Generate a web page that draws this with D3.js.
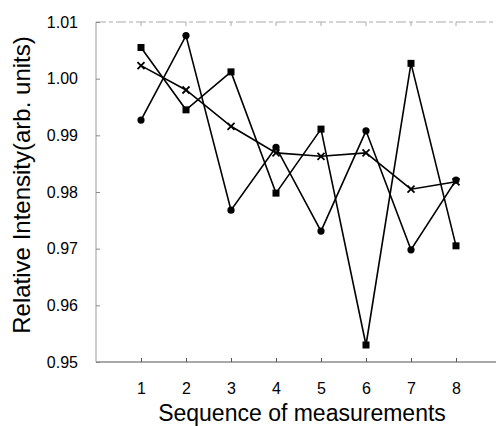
<!DOCTYPE html>
<html><head><meta charset="utf-8">
<script src="https://cdn.jsdelivr.net/npm/d3@7"></script>
<style>body{margin:0;background:#fff}svg{display:block}text{font-family:"Liberation Sans",Arial,sans-serif;fill:#000}</style>
</head><body>
<svg id="c" width="496" height="426"></svg>
<script>
const seq = [1,2,3,4,5,6,7,8];
const squares = [1.0055,0.9945,1.0012,0.9798,0.9911,0.9530,1.0027,0.9705];
const circles = [0.9927,1.0076,0.9768,0.9879,0.9731,0.9908,0.9698,0.9821];
const crosses = [1.0023,0.9980,0.9916,0.9869,0.9863,0.9869,0.9805,0.9818];
const yTicks = [0.95,0.96,0.97,0.98,0.99,1.00,1.01];
const xTitle = "Sequence of measurements";
const yTitle = "Relative Intensity(arb. units)";

const svg = d3.select("#c");
const x = d3.scaleLinear().domain([0,9]).range([96,501]);
const y = d3.scaleLinear().domain([0.95,1.01]).range([362,22]);

// frame
svg.append("line").attr("x1",96).attr("x2",496).attr("y1",y(0.95)).attr("y2",y(0.95)).attr("stroke","#555").attr("stroke-width",1);
svg.append("line").attr("x1",96).attr("x2",96).attr("y1",y(0.95)).attr("y2",y(1.01)).attr("stroke","#999").attr("stroke-width",1);
svg.append("line").attr("x1",96).attr("x2",496).attr("y1",y(1.01)).attr("y2",y(1.01)).attr("stroke","#aaa").attr("stroke-width",1).attr("stroke-dasharray","10,3,4,3");

// y axis
const ya = d3.axisLeft(y).tickValues(yTicks).tickFormat(d3.format(".2f")).tickSizeInner(-4).tickSizeOuter(0).tickPadding(18);
const gy = svg.append("g").attr("transform","translate(96,0)").call(ya);
gy.select(".domain").remove();
gy.selectAll("line").attr("stroke","#888");
gy.selectAll("text").attr("font-size",16).attr("fill","#000");

// x axis
const xa = d3.axisBottom(x).tickValues(seq).tickFormat(d3.format("d")).tickSizeInner(-4).tickSizeOuter(0).tickPadding(21);
const gx = svg.append("g").attr("transform",`translate(0,${y(0.95)})`).call(xa);
gx.select(".domain").remove();
gx.selectAll("line").attr("stroke","#555");
gx.selectAll("text").attr("font-size",16).attr("fill","#000");

// top ticks
svg.append("g").selectAll("line").data(seq).join("line")
  .attr("x1",d=>x(d)).attr("x2",d=>x(d)).attr("y1",y(1.01)).attr("y2",y(1.01)+4).attr("stroke","#aaa");

// titles
svg.append("text").attr("x",302).attr("y",421).attr("text-anchor","middle").attr("font-size",23).text(xTitle);
svg.append("text").attr("transform","translate(30,185) rotate(-90)").attr("text-anchor","middle").attr("font-size",24).text(yTitle);

const line = d3.line().x((d,i)=>x(seq[i])).y(d=>y(d));
[squares,circles,crosses].forEach(s=>{
  svg.append("path").datum(s).attr("d",line).attr("fill","none").attr("stroke","#000").attr("stroke-width",1.6);
});
svg.append("g").selectAll("rect").data(squares).join("rect")
  .attr("x",(d,i)=>x(seq[i])-3.5).attr("y",d=>y(d)-3.5).attr("width",7).attr("height",7).attr("fill","#000");
svg.append("g").selectAll("circle").data(circles).join("circle")
  .attr("cx",(d,i)=>x(seq[i])).attr("cy",d=>y(d)).attr("r",3.6).attr("fill","#000");
svg.append("g").selectAll("path").data(crosses).join("path")
  .attr("d",(d,i)=>{const cx=x(seq[i]),cy=y(d),r=3.5;return `M${cx-r},${cy-r}L${cx+r},${cy+r}M${cx-r},${cy+r}L${cx+r},${cy-r}`;})
  .attr("stroke","#000").attr("stroke-width",1.8);
</script>
</body></html>
